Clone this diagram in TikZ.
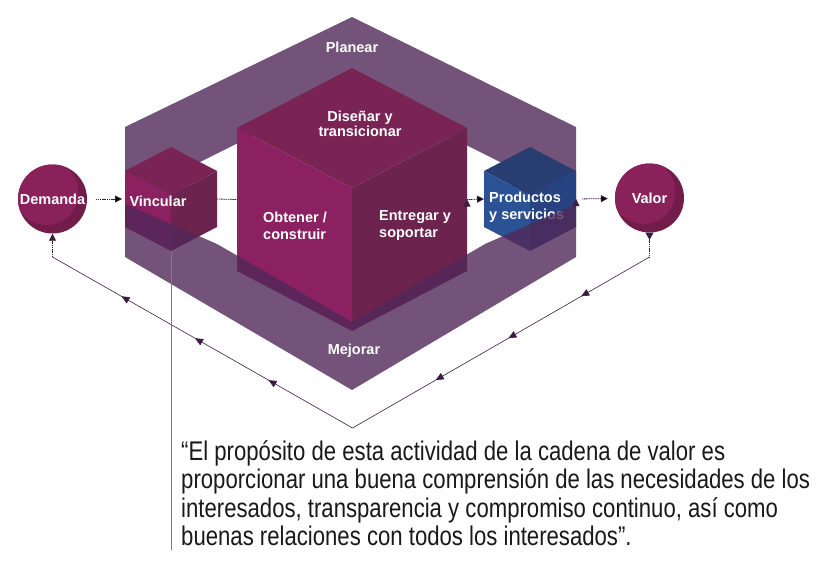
\documentclass[tikz,border=0pt]{standalone}
\usepackage{fontspec}
\setmainfont{Liberation Sans}
\newfontfamily\quotefont[FakeStretch=0.82]{Liberation Sans}
\usetikzlibrary{arrows.meta,decorations.markings}

\definecolor{ringback}{RGB}{116,83,122}
\definecolor{ringfront}{RGB}{81,40,89}
\definecolor{mgtop}{RGB}{122,35,85}
\definecolor{mgleft}{RGB}{139,33,96}
\definecolor{mgright}{RGB}{108,35,78}
\definecolor{bltop}{RGB}{40,62,114}
\definecolor{blleft}{RGB}{44,82,150}
\definecolor{blright}{RGB}{38,66,128}
\definecolor{circlight}{RGB}{137,33,90}
\definecolor{circdark}{RGB}{114,28,74}
\definecolor{flow}{RGB}{60,28,66}
\definecolor{callout}{RGB}{155,95,185}

\begin{document}
\begin{tikzpicture}[x=1pt,y=-1pt,
	cubetext/.style={text=white,font=\bfseries\fontsize{14.5}{17}\selectfont,inner sep=0pt},
	endpoint/.style={circle,minimum size=69pt,fill=circdark,cubetext,
		path picture={\fill[circlight] ([shift={(-6pt,6pt)}]path picture bounding box.center) circle (32pt);}},
	flowline/.style={draw=flow,line width=0.8pt},
	flowdots/.style={flowline,dash pattern=on 1.2pt off 0.6pt},
	arrowtip/.style={-{Triangle[length=7pt,width=7pt]}},
	midtips/.style={postaction={decorate,decoration={markings,
		mark=between positions #1 and 0.8 step 0.245 with {\arrow{Triangle[length=8pt,width=7pt]}}}}},
	pics/cube/.style n args={6}{code={
		\fill[#4] (0,0) -- (-#1,#2) -- (0,2*#2) -- (#1,#2) -- cycle;
		\fill[#5] (-#1,#2) -- (0,2*#2) -- (0,2*#2+#3) -- (-#1,#2+#3) -- cycle;
		\fill[#6] (0,2*#2) -- (#1,#2) -- (#1,#2+#3) -- (0,2*#2+#3) -- cycle;
		\coordinate (-w) at (-#1,#2+#3/2);
		\coordinate (-e) at (#1,#2+#3/2);
		\coordinate (-s) at (0,2*#2+#3);}}]

	\useasboundingbox (0,0) rectangle (840,573);

	% ring, back part
	\fill[ringback] (125,204) -- (125,127) -- (352,17) -- (576,127) -- (576,204) -- (510,233) -- (510,167) -- (350,87) -- (190,167) -- (190,232.3) -- cycle;

	\pic (big) at (352,68) {cube={115}{60}{143}{mgtop}{mgleft}{mgright}};
	\pic (vinc) at (171,147) {cube={46}{24}{56}{mgtop}{mgleft}{mgright}};
	\pic (prod) at (530,147) {cube={46}{24}{56}{bltop}{blleft}{blright}};

	\node[cubetext] (vincular) at (158,201) {Vincular};
	\node[cubetext,align=left,anchor=west] (productos) at (489,207) {Productos\\y servicios};

	% ring, front part
	\fill[ringfront,fill opacity=0.8] (125,204) -- (217,244) -- (352,322) -- (485,244) -- (576,204) -- (576,257) -- (352,390) -- (125,257) -- cycle;

	\node[cubetext] (planear) at (352,47) {Planear};
	\node[cubetext,align=center,font=\bfseries\fontsize{14.5}{15}\selectfont] (disenar) at (360,124) {Diseñar y\\transicionar};
	\node[cubetext,align=left,anchor=west] (obtener) at (263,226) {Obtener /\\construir};
	\node[cubetext,align=left,anchor=west] (entregar) at (379,226) {Entregar y\\soportar};
	\node[cubetext] (mejorar) at (354,351) {Mejorar};
	\node[endpoint] (demanda) at (52.5,199) {Demanda};
	\node[endpoint] (valor) at (649.5,198) {Valor};

	\path[flowdots,arrowtip] (demanda) edge[shorten <=9pt,shorten >=3pt] (vinc-w);
	\path[flowdots] (vinc-e) edge (big-w);
	\path[flowdots,arrowtip] (big-e) edge (prod-w);
	\path[flowdots,arrowtip] (prod-e) edge[shorten <=6pt,shorten >=7pt] (valor);

	\coordinate (loopR) at (649.5,257);
	\coordinate (loopB) at (352.5,428);
	\coordinate (loopL) at (52.5,257);
	\draw[flowdots,{Triangle[reversed,length=7pt,width=8pt]}-] (valor) -- (loopR);
	\draw[flowline,line width=0.6pt,midtips=0.23] (loopR) -- (loopB);
	\draw[flowline,line width=0.6pt,midtips=0.28] (loopB) -- (loopL);
	\draw[flowdots,arrowtip] (loopL) -- (demanda);

	\coordinate (calloutend) at (171,550);
	\draw[callout,line width=1pt] (vinc-s) -- (calloutend);

	\node[anchor=north west,inner sep=0pt,align=left,text=black!90,font=\quotefont\fontsize{27}{28.5}\selectfont] (cita) at (181,440) {“El propósito de esta actividad de la cadena de valor es\\proporcionar una buena comprensión de las necesidades de los\\interesados, transparencia y compromiso continuo, así como\\buenas relaciones con todos los interesados”.};

\end{tikzpicture}
\end{document}
